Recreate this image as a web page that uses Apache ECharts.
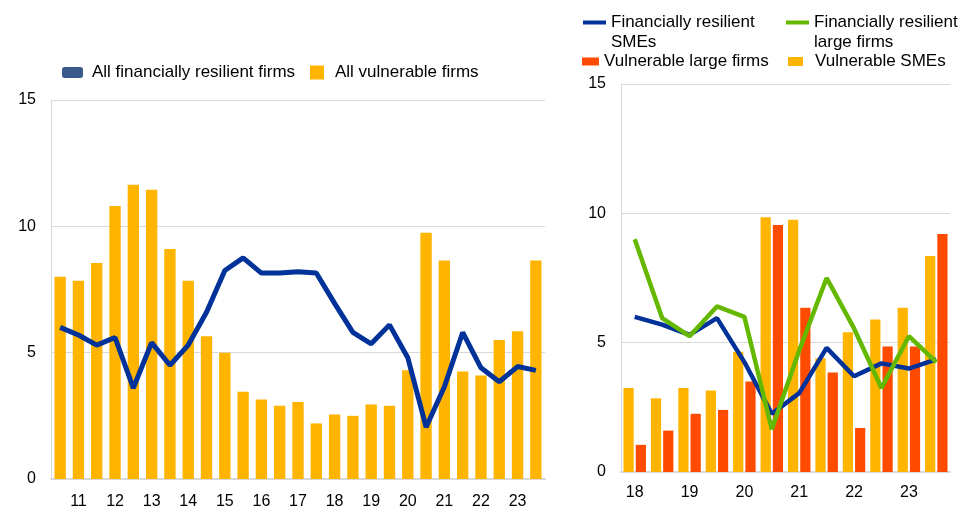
<!DOCTYPE html>
<html>
<head>
<meta charset="utf-8">
<script src="https://cdn.jsdelivr.net/npm/echarts@6/dist/echarts.min.js"></script>
<style>
  * { margin: 0; padding: 0; }
  body { background: #fff; }
  #main { width: 962px; height: 510px; }
</style>
</head>
<body>
<div id="main"></div>
<script>
// left panel: half-years 2010H2 .. 2023H2
var leftPeriods = ['10H2','11H1','11H2','12H1','12H2','13H1','13H2','14H1','14H2','15H1','15H2','16H1','16H2',
  '17H1','17H2','18H1','18H2','19H1','19H2','20H1','20H2','21H1','21H2','22H1','22H2','23H1','23H2'];
var allVulnerable = [8.0, 7.85, 8.55, 10.8, 11.65, 11.45, 9.1, 7.85, 5.65, 5.0, 3.45, 3.15, 2.9,
  3.05, 2.2, 2.55, 2.5, 2.95, 2.9, 4.3, 9.75, 8.65, 4.25, 4.1, 5.5, 5.85, 8.65];
var allResilient = [6.0, 5.7, 5.3, 5.6, 3.6, 5.4, 4.5, 5.3, 6.6, 8.25, 8.75, 8.15, 8.15,
  8.2, 8.15, 6.95, 5.8, 5.35, 6.1, 4.8, 2.05, 3.65, 5.8, 4.4, 3.85, 4.45, 4.3];

// right panel: 2018H1 .. 2023H2
var rightPeriods = ['18H1','18H2','19H1','19H2','20H1','20H2','21H1','21H2','22H1','22H2','23H1','23H2'];
var vulnSMEs = [3.25, 2.85, 3.25, 3.15, 4.65, 9.85, 9.75, 4.4, 5.4, 5.9, 6.35, 8.35];
var vulnLarge = [1.05, 1.6, 2.25, 2.4, 3.5, 9.55, 6.35, 3.85, 1.7, 4.85, 4.85, 9.2];
var resSMEs = [6.0, 5.7, 5.3, 5.95, 4.25, 2.25, 3.05, 4.8, 3.7, 4.2, 4.0, 4.35];
var resLarge = [9.0, 5.95, 5.25, 6.4, 6.0, 1.65, 4.7, 7.5, 5.55, 3.25, 5.25, 4.25];

var yTicks = [0, 5, 10, 15];

var FONT = "'Liberation Sans', Arial, sans-serif";
var BLUE = '#003299', YELLOW = '#FFB400', ORANGE = '#FF4B00', GREEN = '#65B800';
var GREY = '#d9d9d9';

// only H1 gets a year label
function yearLabel(v) {
  return v.indexOf('H1') > 0 ? v.slice(0, 2) : '';
}

function catAxis(idx, data, margin) {
  return {
    type: 'category', gridIndex: idx, data: data,
    boundaryGap: true,
    axisTick: { show: false },
    axisLine: { lineStyle: { color: GREY, width: 2 } },
    axisLabel: { interval: 0, formatter: yearLabel, color: '#000', fontSize: 16, fontFamily: FONT, margin: margin }
  };
}
function valAxis(idx) {
  return {
    type: 'value', gridIndex: idx,
    min: yTicks[0], max: yTicks[yTicks.length - 1], interval: 5,
    axisLine: { show: true, lineStyle: { color: GREY, width: 1 } },
    axisTick: { show: false },
    splitLine: { lineStyle: { color: GREY, width: 1 } },
    axisLabel: { color: '#000', fontSize: 16, fontFamily: FONT, margin: 15 }
  };
}
function oneLegend(name, left, top, w, h, icon, padLeft, fmt) {
  var lg = {
    data: [name], left: left, top: top, padding: 0,
    itemWidth: w, itemHeight: h, icon: icon,
    selectedMode: false,
    textStyle: { color: '#000', fontSize: 17, fontFamily: FONT, padding: [0, 0, 0, padLeft] }
  };
  if (fmt) lg.formatter = fmt;
  return lg;
}
// second line of the wrapped legend names
function legendLine2(txt, x, y) {
  return {
    type: 'text', left: x, top: y,
    style: { text: txt, fill: '#000', font: '17px ' + FONT }
  };
}

var chart = echarts.init(document.getElementById('main'));
chart.setOption({
  animation: false,
  legend: [
    oneLegend('All financially resilient firms', 62, 64, 21, 11, 'roundRect', 4),
    oneLegend('All vulnerable firms', 310, 64, 14, 14, 'rect', 6),
    oneLegend('Financially resilient SMEs', 583, 14, 23, 4, 'rect', 0, 'Financially resilient'),
    oneLegend('Financially resilient large firms', 786, 14, 23, 4, 'rect', 0, 'Financially resilient'),
    oneLegend('Vulnerable large firms', 582, 53, 17, 8, 'rect', 0),
    oneLegend('Vulnerable SMEs', 788, 53, 15, 9, 'rect', 7)
  ],
  graphic: [
    legendLine2('SMEs', 611, 34),
    legendLine2('large firms', 814, 34)
  ],
  grid: [
    { left: 51, right: 417, top: 100, bottom: 27 },
    { left: 621, right: 12, top: 84, bottom: 38 }
  ],
  xAxis: [catAxis(0, leftPeriods, 15), catAxis(1, rightPeriods, 13)],
  yAxis: [valAxis(0), valAxis(1)],
  series: [
    {
      name: 'All vulnerable firms', type: 'bar', xAxisIndex: 0, yAxisIndex: 0,
      barCategoryGap: '38%', itemStyle: { color: YELLOW }, data: allVulnerable
    },
    {
      name: 'All financially resilient firms', type: 'line', xAxisIndex: 0, yAxisIndex: 0,
      showSymbol: false, lineStyle: { color: BLUE, width: 5 }, itemStyle: { color: '#3a5a8c' },
      data: allResilient
    },
    {
      name: 'Vulnerable SMEs', type: 'bar', xAxisIndex: 1, yAxisIndex: 1,
      barCategoryGap: '18%', barGap: '20%', itemStyle: { color: YELLOW }, data: vulnSMEs
    },
    {
      name: 'Vulnerable large firms', type: 'bar', xAxisIndex: 1, yAxisIndex: 1,
      barGap: '20%', itemStyle: { color: ORANGE }, data: vulnLarge
    },
    {
      name: 'Financially resilient SMEs', type: 'line', xAxisIndex: 1, yAxisIndex: 1,
      showSymbol: false, lineStyle: { color: BLUE, width: 4.5 }, itemStyle: { color: BLUE },
      data: resSMEs
    },
    {
      name: 'Financially resilient large firms', type: 'line', xAxisIndex: 1, yAxisIndex: 1,
      showSymbol: false, lineStyle: { color: GREEN, width: 4.5 }, itemStyle: { color: GREEN },
      data: resLarge
    }
  ]
});
</script>
</body>
</html>
